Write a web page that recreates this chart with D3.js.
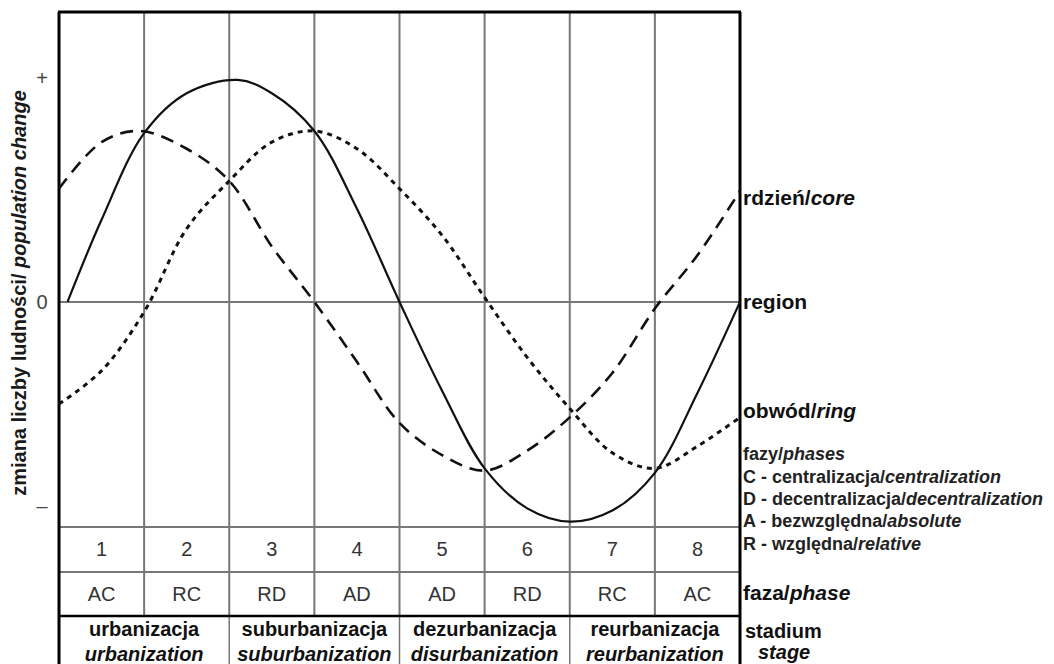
<!DOCTYPE html>
<html>
<head>
<meta charset="utf-8">
<script src="https://cdn.jsdelivr.net/npm/d3@7"></script>
<style>
  body { margin: 0; background: #fff; }
  text { font-family: "Liberation Sans", Arial, sans-serif; }
</style>
</head>
<body>
<script>
    // values (x in columns 0..8, y as relative change, region peak = 1)
    const regionX = [0.1, 0.5, 1.0, 1.5, 2.1, 2.5, 3.0, 3.5, 4.0, 4.5, 5.0, 5.5, 6.0, 6.5, 7.0, 7.5, 8.0];
    const regionY = [0, 0.37, 0.76, 0.94, 1.0, 0.94, 0.77, 0.42, 0, -0.40, -0.75, -0.93, -0.99, -0.94, -0.77, -0.41, 0];

    const coreX = [0, 0.5, 0.95, 1.5, 2.0, 2.5, 3.0, 3.5, 4.0, 4.5, 5.0, 5.5, 6.0, 6.5, 7.0, 7.5, 8.0];
    const coreY = [0.51, 0.72, 0.77, 0.69, 0.545, 0.25, 0, -0.27, -0.545, -0.69, -0.76, -0.67, -0.52, -0.32, -0.03, 0.21, 0.50];

    const ringX = [0, 0.5, 1.0, 1.5, 2.0, 2.5, 3.0, 3.5, 4.0, 4.5, 5.0, 5.5, 6.0, 6.5, 7.0, 7.5, 8.0];
    const ringY = [-0.46, -0.31, -0.045, 0.33, 0.545, 0.72, 0.77, 0.69, 0.51, 0.30, 0.02, -0.25, -0.48, -0.68, -0.75, -0.65, -0.52];

    const yTickValues = [1.01, 0, -0.92];
    const yTickLabels = ["+", "0", "\u2013"];

    const stepLabels = ["1", "2", "3", "4", "5", "6", "7", "8"];
    const phaseLabels = ["AC", "RC", "RD", "AD", "AD", "RD", "RC", "AC"];
    const stagePl = ["urbanizacja", "suburbanizacja", "dezurbanizacja", "reurbanizacja"];
    const stageEn = ["urbanization", "suburbanization", "disurbanization", "reurbanization"];

    const seriesNamePl = ["rdzień/", "region", "obwód/"];
    const seriesNameEn = ["core", "", "ring"];
    const seriesLabelAt = [0.47, 0, -0.49];

    const legendPl = ["fazy/", "C - centralizacja/", "D - decentralizacja/", "A - bezwzględna/", "R - względna/"];
    const legendEn = ["phases", "centralization", "decentralization", "absolute", "relative"];

    const width = 1054, height = 664;
    const plotLeft = 59, plotRight = 740, plotTop = 12, plotBottom = 527;
    const rowStep = 572, rowPhase = 616, tableBottom = 664;

    const svg = d3.select("body").append("svg")
        .attr("width", width)
        .attr("height", height);

    const x = d3.scaleLinear().domain([0, 8]).range([plotLeft, plotRight]);
    const y = d3.scaleLinear().domain([-1.014, 1.306]).range([plotBottom, plotTop]);

    const grey = "#777";

    // grid: column lines through plot, step row and phase row
    svg.selectAll(".vgrid")
        .data(d3.range(1, 8))
        .enter()
        .append("line")
        .attr("x1", d => x(d)).attr("x2", d => x(d))
        .attr("y1", plotTop).attr("y2", rowPhase)
        .attr("stroke", grey)
        .attr("stroke-width", 2);

    // stage separators every two columns
    svg.selectAll(".sgrid")
        .data([2, 4, 6])
        .enter()
        .append("line")
        .attr("x1", d => x(d)).attr("x2", d => x(d))
        .attr("y1", rowPhase).attr("y2", tableBottom)
        .attr("stroke", grey)
        .attr("stroke-width", 1.5);

    // horizontal grey lines
    [y(0), plotBottom, rowStep].forEach(yy => {
        svg.append("line")
            .attr("x1", plotLeft).attr("x2", plotRight)
            .attr("y1", yy).attr("y2", yy)
            .attr("stroke", grey)
            .attr("stroke-width", 2);
    });

    // black frame
    svg.append("line").attr("x1", plotLeft - 1).attr("x2", plotRight + 1).attr("y1", plotTop).attr("y2", plotTop)
        .attr("stroke", "#000").attr("stroke-width", 3);
    svg.append("line").attr("x1", plotLeft).attr("x2", plotLeft).attr("y1", plotTop).attr("y2", tableBottom)
        .attr("stroke", "#000").attr("stroke-width", 3);
    svg.append("line").attr("x1", plotRight).attr("x2", plotRight).attr("y1", plotTop).attr("y2", tableBottom)
        .attr("stroke", "#000").attr("stroke-width", 3);
    svg.append("line").attr("x1", plotLeft).attr("x2", plotRight).attr("y1", rowPhase).attr("y2", rowPhase)
        .attr("stroke", "#000").attr("stroke-width", 2.5);

    // curves
    const line = d3.line()
        .x(d => x(d[0]))
        .y(d => y(d[1]))
        .curve(d3.curveCatmullRom.alpha(0.5));

    const series = [
        { xs: coreX, ys: coreY, dash: "13,8", w: 2.6 },
        { xs: ringX, ys: ringY, dash: "5,5", w: 3 },
        { xs: regionX, ys: regionY, dash: null, w: 2.2 }
    ];

    series.forEach(s => {
        svg.append("path")
            .datum(d3.zip(s.xs, s.ys))
            .attr("d", line)
            .attr("fill", "none")
            .attr("stroke", "#111")
            .attr("stroke-width", s.w)
            .attr("stroke-dasharray", s.dash);
    });

    // y tick labels and axis title
    svg.selectAll(".ytick")
        .data(yTickValues)
        .enter()
        .append("text")
        .attr("x", 42)
        .attr("y", d => y(d))
        .attr("dy", "0.35em")
        .attr("text-anchor", "middle")
        .attr("font-size", "20px")
        .attr("fill", "#444")
        .text((d, i) => yTickLabels[i]);

    const title = svg.append("text")
        .attr("transform", `translate(19,${293}) rotate(-90)`)
        .attr("text-anchor", "middle")
        .attr("dy", "0.35em")
        .attr("font-size", "20px")
        .attr("font-weight", "bold")
        .attr("fill", "#1a1a1a");
    title.append("tspan").text("zmiana liczby ludności/ ");
    title.append("tspan").attr("font-style", "italic").text("population change");

    // table rows
    svg.selectAll(".step")
        .data(stepLabels)
        .enter()
        .append("text")
        .attr("x", (d, i) => x(i + 0.5))
        .attr("y", 549)
        .attr("dy", "0.35em")
        .attr("text-anchor", "middle")
        .attr("font-size", "20px")
        .attr("fill", "#333")
        .text(d => d);

    svg.selectAll(".phase")
        .data(phaseLabels)
        .enter()
        .append("text")
        .attr("x", (d, i) => x(i + 0.5))
        .attr("y", 594)
        .attr("dy", "0.35em")
        .attr("text-anchor", "middle")
        .attr("font-size", "20px")
        .attr("fill", "#333")
        .text(d => d);

    stagePl.forEach((pl, i) => {
        svg.append("text")
            .attr("x", x(i * 2 + 1))
            .attr("y", 629)
            .attr("dy", "0.35em")
            .attr("text-anchor", "middle")
            .attr("font-size", "20px")
            .attr("font-weight", "bold")
            .attr("fill", "#111")
            .text(pl);
        svg.append("text")
            .attr("x", x(i * 2 + 1))
            .attr("y", 654)
            .attr("dy", "0.35em")
            .attr("text-anchor", "middle")
            .attr("font-size", "20px")
            .attr("font-weight", "bold")
            .attr("font-style", "italic")
            .attr("fill", "#111")
            .text(stageEn[i]);
    });

    // right-hand series labels
    seriesNamePl.forEach((pl, i) => {
        const t = svg.append("text")
            .attr("x", plotRight + 3)
            .attr("y", y(seriesLabelAt[i]))
            .attr("dy", "0.35em")
            .attr("font-size", "21px")
            .attr("font-weight", "bold")
            .attr("fill", "#111");
        t.append("tspan").text(pl);
        t.append("tspan").attr("font-style", "italic").text(seriesNameEn[i]);
    });

    // phases legend
    legendPl.forEach((pl, i) => {
        const t = svg.append("text")
            .attr("x", plotRight + 3)
            .attr("y", 454 + i * 22.3)
            .attr("dy", "0.35em")
            .attr("font-size", "18px")
            .attr("font-weight", "bold")
            .attr("fill", "#222");
        t.append("tspan").text(pl);
        t.append("tspan").attr("font-style", "italic").text(legendEn[i]);
    });

    const faza = svg.append("text")
        .attr("x", plotRight + 3)
        .attr("y", 593)
        .attr("dy", "0.35em")
        .attr("font-size", "21px")
        .attr("font-weight", "bold")
        .attr("fill", "#111");
    faza.append("tspan").text("faza/");
    faza.append("tspan").attr("font-style", "italic").text("phase");

    svg.append("text")
        .attr("x", plotRight + 5)
        .attr("y", 631)
        .attr("dy", "0.35em")
        .attr("font-size", "20px")
        .attr("font-weight", "bold")
        .attr("fill", "#111")
        .text("stadium");
    svg.append("text")
        .attr("x", plotRight + 18)
        .attr("y", 652)
        .attr("dy", "0.35em")
        .attr("font-size", "20px")
        .attr("font-weight", "bold")
        .attr("font-style", "italic")
        .attr("fill", "#111")
        .text("stage");
</script>
</body>
</html>
